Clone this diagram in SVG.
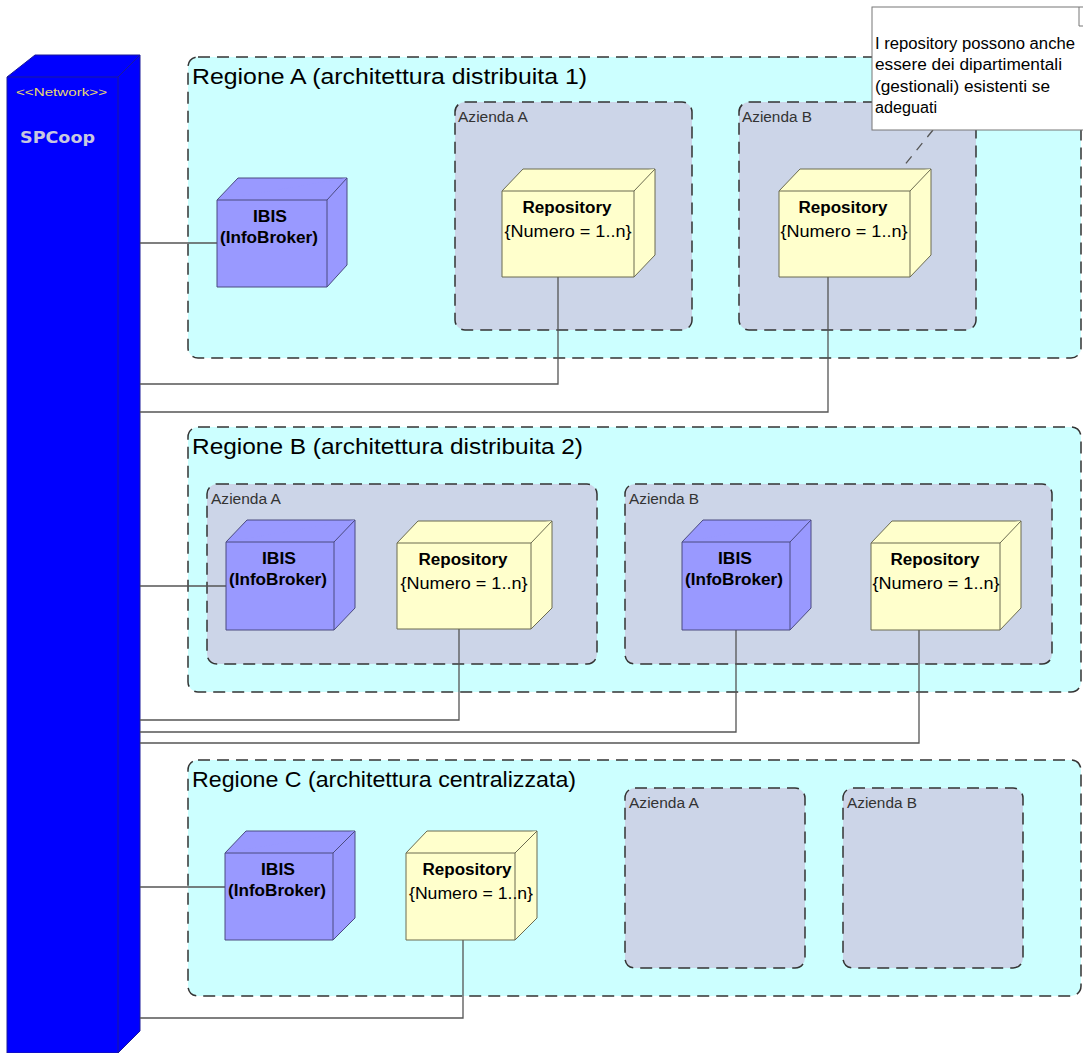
<svg xmlns="http://www.w3.org/2000/svg" width="1083" height="1053" viewBox="0 0 1083 1053">
<style>
.region{fill:#ccffff;stroke:#333;stroke-width:1.5;stroke-dasharray:12 7}
.az{fill:#ccd5e8;stroke:#333;stroke-width:1.5;stroke-dasharray:12 7}
.rtitle{font-family:"Liberation Sans",Arial,sans-serif;font-size:22px;fill:#000}
.aztitle{font-family:"Liberation Sans",Arial,sans-serif;font-size:14px;fill:#333}
.ibis{fill:#9999ff;stroke:#4a4a80;stroke-width:1}
.repo{fill:#ffffcc;stroke:#6b6b50;stroke-width:1}
.ntitle{font-family:"Liberation Sans",Arial,sans-serif;font-size:16px;font-weight:bold;fill:#000;text-anchor:middle}
.nsub{font-family:"Liberation Sans",Arial,sans-serif;font-size:16px;fill:#000;text-anchor:middle}
.conn{fill:none;stroke:#555;stroke-width:1.3}
.note{font-family:"Liberation Sans",Arial,sans-serif;font-size:16px;fill:#000}
</style>
<rect width="1083" height="1053" fill="#fff"/>

<g id="spcoop">
<polygon points="7,77 35,55 140,55 140,1031 118,1053 7,1053" fill="#0000ff" stroke="#1a1a99" stroke-width="1"/>
<polyline points="7,77 118,77 140,55" fill="none" stroke="#1a1a99" stroke-width="1"/>
<line x1="118" y1="77" x2="118" y2="1053" stroke="#1a1a99" stroke-width="1"/>
<text x="16" y="96" font-family="Liberation Sans,Arial,sans-serif" font-size="11" fill="#e8d870" textLength="91" lengthAdjust="spacingAndGlyphs">&lt;&lt;Network&gt;&gt;</text>
<text x="20" y="143" font-family="DejaVu Sans,sans-serif" font-size="15" font-weight="bold" fill="#c8c8e0" textLength="75" lengthAdjust="spacingAndGlyphs">SPCoop</text>
</g>

<g id="regioneA">
<rect class="region" x="188" y="57" width="893" height="301" rx="10"/>
<text class="rtitle" x="192" y="84" textLength="395" lengthAdjust="spacingAndGlyphs">Regione A (architettura distribuita 1)</text>
</g>
<g id="regioneA-aziendaA">
<rect class="az" x="455" y="102" width="237" height="228" rx="10"/>
<text class="aztitle" x="458" y="122" textLength="70" lengthAdjust="spacingAndGlyphs">Azienda A</text>
</g>
<g id="regioneA-aziendaB">
<rect class="az" x="739" y="102" width="237" height="228" rx="10"/>
<text class="aztitle" x="742" y="122" textLength="70" lengthAdjust="spacingAndGlyphs">Azienda B</text>
</g>

<g id="regioneB">
<rect class="region" x="188" y="427" width="893" height="265" rx="10"/>
<text class="rtitle" x="192" y="454" textLength="391" lengthAdjust="spacingAndGlyphs">Regione B (architettura distribuita 2)</text>
</g>
<g id="regioneB-aziendaA">
<rect class="az" x="207" y="484" width="390" height="180" rx="10"/>
<text class="aztitle" x="211" y="504" textLength="70" lengthAdjust="spacingAndGlyphs">Azienda A</text>
</g>
<g id="regioneB-aziendaB">
<rect class="az" x="625" y="484" width="427" height="180" rx="10"/>
<text class="aztitle" x="629" y="504" textLength="70" lengthAdjust="spacingAndGlyphs">Azienda B</text>
</g>

<g id="regioneC">
<rect class="region" x="188" y="760" width="893" height="236" rx="10"/>
<text class="rtitle" x="192" y="787" textLength="384" lengthAdjust="spacingAndGlyphs">Regione C (architettura centralizzata)</text>
</g>
<g id="regioneC-aziendaA">
<rect class="az" x="625" y="788" width="180" height="180" rx="10"/>
<text class="aztitle" x="629" y="808" textLength="70" lengthAdjust="spacingAndGlyphs">Azienda A</text>
</g>
<g id="regioneC-aziendaB">
<rect class="az" x="843" y="788" width="180" height="180" rx="10"/>
<text class="aztitle" x="847" y="808" textLength="70" lengthAdjust="spacingAndGlyphs">Azienda B</text>
</g>

<g id="connectors">
<line class="conn" x1="140" y1="243" x2="217" y2="243"/>
<polyline class="conn" points="558,277 558,384 140,384"/>
<polyline class="conn" points="828,277 828,412 140,412"/>
<line class="conn" x1="140" y1="586" x2="226" y2="586"/>
<polyline class="conn" points="459,629 459,720 140,720"/>
<polyline class="conn" points="736,630 736,732 140,732"/>
<polyline class="conn" points="919,630 919,743 140,743"/>
<line class="conn" x1="140" y1="887" x2="225" y2="887"/>
<polyline class="conn" points="463,940 463,1018 140,1018"/>
<line x1="933" y1="130" x2="899" y2="172" stroke="#555" stroke-width="1.3" stroke-dasharray="9 8"/>
</g>

<g id="ibisA">
<polygon class="ibis" points="217,200 238,178 347,178 347,265 327,287 217,287"/>
<polyline class="ibis" fill="none" points="217,200 327,200 347,178"/>
<line class="ibis" x1="327" y1="200" x2="327" y2="287"/>
<text class="ntitle" x="270" y="222" textLength="34" lengthAdjust="spacingAndGlyphs">IBIS</text>
<text class="ntitle" x="269" y="243" textLength="98" lengthAdjust="spacingAndGlyphs">(InfoBroker)</text>
</g>

<g id="repoA-A">
<polygon class="repo" points="502,191 523,169 655,169 655,255 634,277 502,277"/>
<polyline class="repo" fill="none" points="502,191 634,191 655,169"/>
<line class="repo" x1="634" y1="191" x2="634" y2="277"/>
<text class="ntitle" x="567" y="213" textLength="89" lengthAdjust="spacingAndGlyphs">Repository</text>
<text class="nsub" x="568" y="237" textLength="127" lengthAdjust="spacingAndGlyphs">{Numero = 1..n}</text>
</g>

<g id="repoA-B">
<polygon class="repo" points="779,191 800,169 931,169 931,255 910,277 779,277"/>
<polyline class="repo" fill="none" points="779,191 910,191 931,169"/>
<line class="repo" x1="910" y1="191" x2="910" y2="277"/>
<text class="ntitle" x="843" y="213" textLength="89" lengthAdjust="spacingAndGlyphs">Repository</text>
<text class="nsub" x="844" y="237" textLength="127" lengthAdjust="spacingAndGlyphs">{Numero = 1..n}</text>
</g>

<g id="ibisB-A">
<polygon class="ibis" points="226,542 247,520 355,520 355,608 334,630 226,630"/>
<polyline class="ibis" fill="none" points="226,542 334,542 355,520"/>
<line class="ibis" x1="334" y1="542" x2="334" y2="630"/>
<text class="ntitle" x="279" y="564" textLength="34" lengthAdjust="spacingAndGlyphs">IBIS</text>
<text class="ntitle" x="278" y="585" textLength="98" lengthAdjust="spacingAndGlyphs">(InfoBroker)</text>
</g>

<g id="repoB-A">
<polygon class="repo" points="397,543 418,521 552,521 552,608 531,629 397,629"/>
<polyline class="repo" fill="none" points="397,543 531,543 552,521"/>
<line class="repo" x1="531" y1="543" x2="531" y2="629"/>
<text class="ntitle" x="463" y="565" textLength="89" lengthAdjust="spacingAndGlyphs">Repository</text>
<text class="nsub" x="464" y="589" textLength="127" lengthAdjust="spacingAndGlyphs">{Numero = 1..n}</text>
</g>

<g id="ibisB-B">
<polygon class="ibis" points="682,542 703,520 811,520 811,608 790,630 682,630"/>
<polyline class="ibis" fill="none" points="682,542 790,542 811,520"/>
<line class="ibis" x1="790" y1="542" x2="790" y2="630"/>
<text class="ntitle" x="735" y="564" textLength="34" lengthAdjust="spacingAndGlyphs">IBIS</text>
<text class="ntitle" x="734" y="585" textLength="98" lengthAdjust="spacingAndGlyphs">(InfoBroker)</text>
</g>

<g id="repoB-B">
<polygon class="repo" points="871,543 892,521 1021,521 1021,608 1000,630 871,630"/>
<polyline class="repo" fill="none" points="871,543 1000,543 1021,521"/>
<line class="repo" x1="1000" y1="543" x2="1000" y2="630"/>
<text class="ntitle" x="935" y="565" textLength="89" lengthAdjust="spacingAndGlyphs">Repository</text>
<text class="nsub" x="936" y="589" textLength="127" lengthAdjust="spacingAndGlyphs">{Numero = 1..n}</text>
</g>

<g id="ibisC">
<polygon class="ibis" points="225,853 246,831 355,831 355,918 333,940 225,940"/>
<polyline class="ibis" fill="none" points="225,853 333,853 355,831"/>
<line class="ibis" x1="333" y1="853" x2="333" y2="940"/>
<text class="ntitle" x="278" y="875" textLength="34" lengthAdjust="spacingAndGlyphs">IBIS</text>
<text class="ntitle" x="277" y="896" textLength="98" lengthAdjust="spacingAndGlyphs">(InfoBroker)</text>
</g>

<g id="repoC">
<polygon class="repo" points="406,853 427,831 537,831 537,918 515,940 406,940"/>
<polyline class="repo" fill="none" points="406,853 515,853 537,831"/>
<line class="repo" x1="515" y1="853" x2="515" y2="940"/>
<text class="ntitle" x="467" y="875" textLength="89" lengthAdjust="spacingAndGlyphs">Repository</text>
<text class="nsub" x="471" y="899" textLength="124" lengthAdjust="spacingAndGlyphs">{Numero = 1..n}</text>
</g>

<g id="note">
<rect x="872" y="7" width="230" height="123" fill="#fff" stroke="#777" stroke-width="1"/>
<polyline points="1079,7 1079,26 1090,26" fill="none" stroke="#777" stroke-width="1"/>
<text class="note" x="875" y="49" textLength="200" lengthAdjust="spacingAndGlyphs">I repository possono anche</text>
<text class="note" x="875" y="70" textLength="187" lengthAdjust="spacingAndGlyphs">essere dei dipartimentali</text>
<text class="note" x="875" y="92" textLength="175" lengthAdjust="spacingAndGlyphs">(gestionali) esistenti se</text>
<text class="note" x="875" y="113" textLength="62" lengthAdjust="spacingAndGlyphs">adeguati</text>
</g>
</svg>
